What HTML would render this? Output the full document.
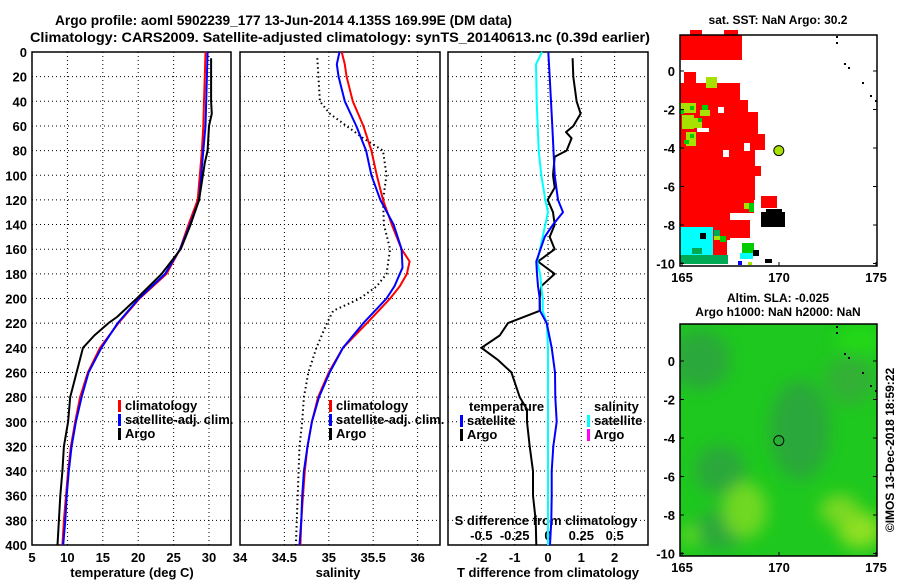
<!DOCTYPE html>
<html><head><meta charset="utf-8"><style>
body{margin:0;background:#fff}
svg{display:block}
text{font-family:"Liberation Sans",sans-serif;font-weight:bold;fill:#000}
</style></head><body>
<svg id="c" width="900" height="580" viewBox="0 0 900 580">
<text x="55" y="25" font-size="14" textLength="457" lengthAdjust="spacingAndGlyphs">Argo profile: aoml 5902239_177 13-Jun-2014 4.135S 169.99E (DM data)</text>
<text x="30" y="42" font-size="14" textLength="620" lengthAdjust="spacingAndGlyphs">Climatology: CARS2009. Satellite-adjusted climatology: synTS_20140613.nc (0.39d earlier)</text>
<text x="778" y="24" text-anchor="middle" font-size="12">sat. SST: NaN Argo: 30.2</text>
<text x="778" y="302" text-anchor="middle" font-size="12">Altim. SLA: -0.025</text>
<text x="778" y="316" text-anchor="middle" font-size="12">Argo h1000: NaN h2000: NaN</text>
<text transform="translate(894,450) rotate(-90)" text-anchor="middle" font-size="12" font-weight="normal">©IMOS 13-Dec-2018 18:59:22</text>
</svg>
<script>
const depthTicks=[0,20,40,60,80,100,120,140,160,180,200,220,240,260,280,300,320,340,360,380,400];
const tempTicks=[5,10,15,20,25,30];
const salTicks=[34,34.5,35,35.5,36];
const salTickLabels=["34","34.5","35","35.5","36"];
const tdiffTicks=[-2,-1,0,1,2];
const sdiffTicks=[-0.5,-0.25,0,0.25,0.5];
const sdiffLabels=["-0.5","-0.25","0","0.25","0.5"];

const tempDepths=[0,20,40,60,80,100,120,140,160,180,200,220,240,260,280,300,320,340,360,380,400];
const tempClim=[29.5,29.4,29.3,29.2,29.0,28.7,28.4,27.1,25.9,24.0,20.2,17.2,14.6,12.9,11.8,11.1,10.5,10.1,9.8,9.5,9.3];
const tempSat=[29.8,29.7,29.6,29.5,29.2,28.9,28.6,27.3,25.9,23.8,20.1,17.1,14.8,13.0,12.0,11.2,10.6,10.2,9.9,9.7,9.4];
const argoTempDepths=[5,40,50,60,80,90,120,140,160,180,200,215,220,230,240,280,300,320,340,360,380,400];
const tempArgo=[30.3,30.3,30.4,30.0,29.8,29.4,28.6,27.4,26.0,23.3,19.8,17.0,15.8,13.8,12.2,10.4,10.1,9.5,9.3,9.0,8.8,8.6];

const salClimDepths=[0,10,20,40,60,80,100,120,140,160,170,180,190,200,220,240,260,280,300,320,340,360,380,400];
const salClim=[35.145,35.18,35.2,35.27,35.39,35.48,35.54,35.61,35.71,35.82,35.91,35.88,35.80,35.69,35.43,35.16,35.0,34.88,34.81,34.76,34.73,34.71,34.69,34.68];
const salSatDepths=[0,10,20,40,60,80,100,120,140,160,175,190,200,220,240,260,280,300,320,340,360,380,400];
const salSat=[35.12,35.09,35.11,35.18,35.31,35.42,35.48,35.58,35.73,35.82,35.83,35.74,35.65,35.39,35.16,35.01,34.89,34.81,34.76,34.72,34.70,34.69,34.67];
const salArgoDepths=[5,40,50,60,70,80,100,120,140,160,180,190,200,210,220,240,260,280,300,320,340,360,380,400];
const salArgo=[34.87,34.90,35.01,35.20,35.39,35.61,35.65,35.61,35.62,35.69,35.65,35.54,35.35,35.05,34.98,34.86,34.77,34.72,34.70,34.67,34.66,34.65,34.64,34.63];

const tdiffSatDepths=[0,20,60,100,120,130,140,150,170,180,190,200,210,220,240,260,280,300,320,340,360,380,400];
const tdiffSat=[0.01,0.05,0.13,0.2,0.3,0.45,0.15,-0.1,-0.35,-0.33,-0.3,-0.25,-0.24,-0.04,0.11,0.21,0.22,0.26,0.16,0.11,0.11,0.1,0.06];
const sdiffSatDepths=[0,10,40,80,100,120,130,140,160,170,180,200,210,220,240,300,400];
const sdiffSat=[-0.045,-0.09,-0.085,-0.07,-0.05,-0.02,0.0,-0.02,-0.06,-0.08,-0.06,-0.04,-0.04,-0.01,0.0,0.0,0.0];
const tdiffArgoDepths=[5,20,40,50,60,65,70,80,85,100,110,120,130,140,150,160,170,180,190,200,210,220,230,240,250,260,280,290,300,320,340,360,380,400];
const tdiffArgo=[0.74,0.76,0.86,0.98,0.76,0.54,0.71,0.56,0.2,0.15,0.2,-0.01,0.15,0.2,0.05,0.2,-0.3,0.2,-0.2,-0.25,-0.25,-1.2,-1.45,-2.0,-1.5,-1.1,-0.85,-0.63,-0.63,-0.55,-0.45,-0.45,-0.37,-0.35];

const NS='http://www.w3.org/2000/svg';
const svg=document.getElementById('c');
function mk(tag,attrs,parent){const e=document.createElementNS(NS,tag);for(const k in attrs)e.setAttribute(k,attrs[k]);(parent||svg).appendChild(e);return e;}
const TOP=52,BOT=545;
const yD=d=>TOP+d*(BOT-TOP)/400;
const xT=t=>32+(t-5)*7.08;
const xS=s=>240+(s-34)*88.8;
const xTd=v=>548+v*33.3;
const xSd=v=>548+v*133.3;

function frame(x0,x1,name){
  const g=mk('g',{});
  
  
  depthTicks.forEach(d=>{ if(d>0&&d<400){const l=mk('line',{x1:x0,x2:x1,y1:yD(d),y2:yD(d),stroke:'#000','stroke-width':1,'stroke-dasharray':'1,3'},g);
    
    }});
  const r=mk('rect',{x:x0,y:TOP,width:x1-x0,height:BOT-TOP,fill:'none',stroke:'#000','stroke-width':1.5},g);
  
  
  return g;
}
function vgrid(g,xs){xs.forEach(x=>{const l=mk('line',{x1:x,x2:x,y1:TOP,y2:BOT,stroke:'#000','stroke-width':1,'stroke-dasharray':'1,3'},g);
  
  });}
function line(xs,ds,fx,color,name,dash,w){
  const pts=xs.map((v,i)=>fx(v).toFixed(1)+','+yD(ds[i]).toFixed(1)).join(' ');
  const p=mk('polyline',{points:pts,fill:'none',stroke:color,'stroke-width':w||2,'stroke-linejoin':'round'});
  if(dash)p.setAttribute('stroke-dasharray',dash);
  
  
}
function txt(x,y,s,anchor,size,name){const t=mk('text',{x:x,y:y,'text-anchor':anchor||'start','font-size':size||13});t.textContent=s;
  
  return t;}
function legend(x,y,color,label,name){
  const r=mk('rect',{x:x,y:y-10,width:3,height:12,fill:color});
  
  
  txt(x+7,y,label,'start',13,name);
}

const g1=frame(32,231,'temperature-axes');
vgrid(g1,tempTicks.slice(1).map(xT));
depthTicks.forEach(d=>txt(27,yD(d)+5,String(d),'end',13,'depth-tick-label'));
tempTicks.forEach(t=>txt(xT(t),562,String(t),'middle',13,'temperature-tick-label'));
txt(132,577,'temperature (deg C)','middle',13,'temperature-axis-title');
line(tempClim,tempDepths,xT,'#ff0000','temp-climatology-line');
line(tempSat,tempDepths,xT,'#0000ff','temp-satellite-line');
line(tempArgo,argoTempDepths,xT,'#000','temp-argo-line');
legend(118,410,'#ff0000','climatology','legend-climatology');
legend(118,424,'#0000ff','satellite-adj. clim.','legend-satellite-adj');
legend(118,438,'#000','Argo','legend-argo');

const g2=frame(240,440,'salinity-axes');
vgrid(g2,salTicks.slice(1).map(xS));
salTicks.forEach((s,i)=>txt(xS(s),562,salTickLabels[i],'middle',13,'salinity-tick-label'));
txt(338,577,'salinity','middle',13,'salinity-axis-title');
line(salArgo,salArgoDepths,xS,'#000','sal-argo-line','1.5,3',2);
line(salClim,salClimDepths,xS,'#ff0000','sal-climatology-line');
line(salSat,salSatDepths,xS,'#0000ff','sal-satellite-line');
legend(329,410,'#ff0000','climatology','legend-sal-climatology');
legend(329,424,'#0000ff','satellite-adj. clim.','legend-sal-satellite-adj');
legend(329,438,'#000','Argo','legend-sal-argo');

const g3=frame(448,648,'difference-axes');
vgrid(g3,tdiffTicks.map(xTd));
tdiffTicks.forEach(t=>txt(xTd(t),562,String(t),'middle',13,'tdiff-tick-label'));
txt(548,577,'T difference from climatology','middle',13,'tdiff-axis-title');
sdiffTicks.forEach((s,i)=>txt(xSd(s),540,sdiffLabels[i],'middle',13,'sdiff-tick-label'));
txt(546,525,'S difference from climatology','middle',13,'sdiff-axis-title');
line(tdiffArgo,tdiffArgoDepths,xTd,'#000','tdiff-argo-line');
line(sdiffSat,sdiffSatDepths,xSd,'#00ffff','sdiff-satellite-line');
line(tdiffSat,tdiffSatDepths,xTd,'#0000ff','tdiff-satellite-line');
txt(469,411,'temperature','start',13,'legend-temperature-header');
legend(460,425,'#0000ff','satellite','legend-tdiff-satellite');
legend(460,439,'#000','Argo','legend-tdiff-argo');
txt(594,411,'salinity','start',13,'legend-salinity-header');
legend(587,425,'#00ffff','satellite','legend-sdiff-satellite');
legend(587,439,'#ff00ff','Argo','legend-sdiff-argo');

const lonTicks=[165,170,175];
const latTicks=[0,-2,-4,-6,-8,-10];
const xLon=l=>682+(l-165)*19.4;
function mapAxes(top,bot,lat0,name){
  const yLat=l=>lat0-l*19.25;
  const r=mk('rect',{x:680,y:top,width:197,height:bot-top,fill:'none',stroke:'#000','stroke-width':1.5});
  
  
  latTicks.forEach(l=>{txt(675,yLat(l)+5,String(l),'end',13,name+'-lat-label');
    mk('line',{x1:680,x2:684,y1:yLat(l),y2:yLat(l),stroke:'#000'});mk('line',{x1:873,x2:877,y1:yLat(l),y2:yLat(l),stroke:'#000'});});
  lonTicks.forEach(l=>{txt(xLon(l),bot+16,String(l),'middle',13,name+'-lon-label');
    mk('line',{x1:xLon(l),x2:xLon(l),y1:bot-4,y2:bot,stroke:'#000'});});
  return yLat;
}
const sstG=mk('g',{});


[['#ff0000',[[680,35,62,25],[684,72,12,11],[680,83,60,20],[680,100,68,50],[748,112,10,38],[757,134,8,16],[680,150,75,50],[750,166,11,10],[680,200,74,13],[761,196,16,12],[680,213,50,27],[730,220,20,18],[712,240,15,15],[690,30,12,6],[724,30,14,6]]],
 ['#ffffff',[[723,150,6,7],[744,143,6,8],[697,128,12,4],[718,107,6,6],[742,83,9,8],[684,63,14,8],[700,63,42,8]]],
 ['#a8e000',[[706,77,11,11],[680,103,16,10],[682,115,12,14],[694,118,8,10],[686,132,10,14],[700,110,10,6],[744,203,6,6],[714,236,6,4],[748,262,4,3]]],
 ['#00cc00',[[680,110,4,4],[690,106,4,4],[698,118,4,4],[684,140,5,4],[690,134,4,4],[702,105,6,5],[749,203,5,9],[720,236,6,6],[742,243,12,10]]],
 ['#00ffff',[[680,227,33,36],[740,253,13,6]]],
 ['#00aa55',[[680,255,26,9],[706,255,22,9],[692,248,10,6],[714,230,6,6]]],
 ['#000000',[[761,212,24,15],[766,209,16,6],[700,233,6,6],[753,250,6,6],[765,259,7,4]]],
 ['#0000ff',[[738,261,4,4]]]
].forEach(([c,rs])=>rs.forEach(r=>mk('rect',{x:r[0],y:r[1],width:r[2],height:r[3],fill:c},sstG)));
const yLat1=mapAxes(35,266,71,'sst-map');
const m1=mk('circle',{cx:xLon(169.99),cy:yLat1(-4.135),r:5,fill:'#a8e000',stroke:'#000'});



const defs=mk('defs',{});
const f=mk('filter',{id:'bl',x:'-50%',y:'-50%',width:'200%',height:'200%'},defs);
mk('feGaussianBlur',{stdDeviation:8},f);
const cp=mk('clipPath',{id:'cp2'},defs);mk('rect',{x:680,y:324,width:197,height:232},cp);
const slaG=mk('g',{'clip-path':'url(#cp2)'});


mk('rect',{x:680,y:324,width:197,height:232,fill:'#1ec81e'},slaG);
const bg=mk('g',{filter:'url(#bl)'},slaG);
[['#2aa83a',700,360,30,30],['#2aa83a',800,430,30,50],['#2aa83a',720,470,25,25],['#2aa83a',720,530,25,20],['#30b036',850,380,25,25],
 ['#70d820',745,510,22,28],['#90e020',860,530,22,18],['#7ad820',840,510,20,15],['#60d820',690,535,10,10],['#20d818',860,340,25,15]]
 .forEach(e=>mk('ellipse',{cx:e[1],cy:e[2],rx:e[3],ry:e[4],fill:e[0]},bg));
const yLat2=mapAxes(324,556,361,'sla-map');
const m2=mk('circle',{cx:xLon(169.99),cy:yLat2(-4.135),r:5,fill:'none',stroke:'#000'});


[[836,36],[836,42],[844,63],[848,67],[862,82],[870,95],[875,100]].forEach(p=>{mk('rect',{x:p[0],y:p[1],width:2,height:2,fill:'#000'});mk('rect',{x:p[0],y:p[1]+290,width:2,height:2,fill:'#000'});});
</script>
</body></html>
